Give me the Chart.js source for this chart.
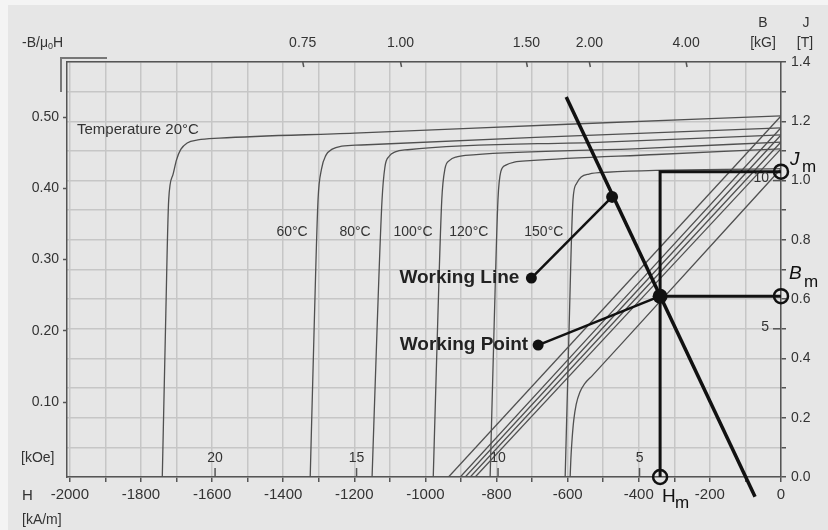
<!DOCTYPE html>
<html>
<head>
<meta charset="utf-8">
<script src="https://cdn.jsdelivr.net/npm/chart.js@4.4.0/dist/chart.umd.min.js"></script>
<style>
  html, body { margin: 0; padding: 0; background: #f4f4f4; }
  #wrap { width: 828px; height: 530px; }
</style>
</head>
<body>
<div id="wrap"><canvas id="chart" width="828" height="530"></canvas></div>
<script>
// ---- data: H in kA/m, J / B in T ----
const H_MIN = -2008;
const KOE = 79.5775; // kA/m per kOe

const tempNames = ["Temperature 20°C", "60°C", "80°C", "100°C", "120°C", "150°C"];

// intrinsic J(H) curves
const j20 = [[-1740,0],[-1731,0.5],[-1722,0.935],[-1710,1.02],[-1700,1.07],[-1688,1.105],[-1670,1.127],[-1640,1.137],[-1580,1.143],[-1200,1.16],[-600,1.19],[0,1.218]];
const j60 = [[-1324,0],[-1313,0.5],[-1302,0.935],[-1292,1.04],[-1280,1.085],[-1262,1.106],[-1235,1.116],[-1180,1.12],[-600,1.15],[0,1.178]];
const j80 = [[-1150,0],[-1136,0.5],[-1122,0.935],[-1114,1.045],[-1102,1.082],[-1085,1.097],[-1050,1.104],[-500,1.13],[0,1.154]];
const j100 = [[-978,0],[-966,0.5],[-954,0.935],[-945,1.04],[-932,1.068],[-912,1.08],[-866,1.087],[-400,1.108],[0,1.13]];
const j120 = [[-818,0],[-807,0.5],[-796,0.935],[-788,1.03],[-774,1.052],[-750,1.062],[-706,1.067],[-350,1.088],[0,1.107]];
const j150 = [[-607,0],[-596,0.5],[-585,0.935],[-575,0.99],[-562,1.012],[-540,1.022],[-490,1.028],[0,1.04]];

// normal B(H) curves
const b20 = [[-935,0],[0,1.218]];
const b60 = [[-902,0],[0,1.178]];
const b80 = [[-888,0],[0,1.154]];
const b100 = [[-874,0],[0,1.13]];
const b120 = [[-860,0],[0,1.107]];
const b150 = [[-593,0],[-591,0.06],[-588,0.12],[-583,0.19],[-576,0.245],[-566,0.285],[-552,0.315],[-530,0.343],[-452,0.445],[0,1.04]];

// load line and operating point
const workingLine = [[-604,1.282],[-73,-0.067]];
const workingPoint = [-340, 0.61];
const jm = 1.03;
const lineTag = [[-702,0.671],[-475,0.945]];
const pointTag = [[-683,0.445],[-340,0.61]];

// axis ticks
const permeanceLabels = ["0.75", "1.00", "1.50", "2.00", "4.00"];
const permeanceAt = [-1345, -1070, -716, -539, -267];
const pcTicks = [0.10, 0.20, 0.30, 0.40, 0.50];
const kOeTicks = [20, 15, 10, 5];
const kGTicks = [10, 5];

const FONT = "'Liberation Sans', Arial, sans-serif";
const INK = "#333";
const CURVE = "#505050";
const BLACK = "#111";

const pts = a => a.map(([x, y]) => ({x, y}));

function curve(a){
  return {
    data: pts(a), borderColor: CURVE, borderWidth: 1.3, pointRadius: 0,
    cubicInterpolationMode: "monotone", order: 2
  };
}

const datasets = [];
[j20, j60, j80, j100, j120, j150].forEach(c => datasets.push(curve(c)));
[b20, b60, b80, b100, b120, b150].forEach(c => datasets.push(curve(c)));

datasets.push({
  data: pts(workingLine), borderColor: BLACK, borderWidth: 3.5, pointRadius: 0, clip: false, order: 1
});
datasets.push({
  data: pts([[workingPoint[0], 0], [workingPoint[0], jm], [0, jm]]),
  borderColor: BLACK, borderWidth: 3, pointRadius: 0, clip: false, order: 1
});
datasets.push({
  data: pts([workingPoint, [0, workingPoint[1]]]),
  borderColor: BLACK, borderWidth: 3, pointRadius: 0, clip: false, order: 1
});
datasets.push({
  data: pts(lineTag), borderColor: BLACK, borderWidth: 2.5,
  pointRadius: [5.5, 6], pointBackgroundColor: BLACK, pointBorderWidth: 0, order: 0
});
datasets.push({
  data: pts(pointTag), borderColor: BLACK, borderWidth: 2.5,
  pointRadius: [5.5, 7.5], pointBackgroundColor: BLACK, pointBorderWidth: 0, order: 0
});
// hollow markers for Jm, Bm, Hm
datasets.push({
  data: pts([[0, jm], [0, workingPoint[1]], [workingPoint[0], 0]]),
  showLine: false, pointRadius: 7, pointBorderWidth: 2.5, pointBorderColor: BLACK,
  pointBackgroundColor: "rgba(0,0,0,0)", clip: false, order: 0
});

function text(ctx, s, x, y, font, align, color){
  ctx.font = font;
  ctx.textAlign = align || "center";
  ctx.textBaseline = "middle";
  ctx.fillStyle = color || INK;
  ctx.fillText(s, x, y);
}

const backdrop = {
  id: "backdrop",
  beforeDraw(chart){
    const ctx = chart.ctx;
    ctx.save();
    ctx.fillStyle = "#f4f4f4";
    ctx.fillRect(0, 0, chart.width, chart.height);
    ctx.fillStyle = "#e6e6e6";
    ctx.fillRect(8, 5, chart.width - 8, chart.height - 5);
    ctx.restore();
  }
};

const annotate = {
  id: "annotate",
  afterDraw(chart){
    const {ctx, chartArea: a, scales: {x, y}} = chart;
    ctx.save();

    // corner bracket at top left
    ctx.strokeStyle = "#777";
    ctx.lineWidth = 2;
    ctx.beginPath();
    ctx.moveTo(a.left - 6, a.top + 30);
    ctx.lineTo(a.left - 6, a.top - 4);
    ctx.lineTo(a.left + 40, a.top - 4);
    ctx.stroke();

    ctx.strokeStyle = "#555";
    ctx.lineWidth = 1.5;
    // small inward ticks under the permeance labels
    permeanceAt.forEach(h => {
      const px = x.getPixelForValue(h);
      ctx.beginPath(); ctx.moveTo(px, a.top); ctx.lineTo(px + 1, a.top + 5); ctx.stroke();
    });
    // kOe scale inside the bottom edge
    kOeTicks.forEach(k => {
      const px = x.getPixelForValue(-k * KOE);
      ctx.beginPath(); ctx.moveTo(px, a.bottom - 9); ctx.lineTo(px, a.bottom); ctx.stroke();
      text(ctx, String(k), px, a.bottom - 19, "14px " + FONT);
    });
    // kG scale inside the right edge
    kGTicks.forEach(k => {
      const py = y.getPixelForValue(k / 10);
      ctx.beginPath(); ctx.moveTo(a.right - 8, py); ctx.lineTo(a.right, py); ctx.stroke();
      text(ctx, String(k), a.right - 12, py - 2, "14px " + FONT, "right");
    });

    // axis captions
    const f14 = "14px " + FONT;
    ctx.font = f14;
    let cx = 22;
    text(ctx, "-B/\u03bc", cx, 43, f14, "left");
    cx += ctx.measureText("-B/\u03bc").width;
    text(ctx, "0", cx, 47, "9px " + FONT, "left");
    cx += 5;
    text(ctx, "H", cx, 43, f14, "left");
    text(ctx, "B", 763, 23, f14);
    text(ctx, "[kG]", 763, 43, f14);
    text(ctx, "J", 806, 23, f14);
    text(ctx, "[T]", 805, 43, f14);
    text(ctx, "H", 22, 496, "15px " + FONT, "left");
    text(ctx, "[kA/m]", 22, 520, f14, "left");
    text(ctx, "[kOe]", 21, a.bottom - 19, f14, "left");

    // temperature labels
    text(ctx, tempNames[0], x.getPixelForValue(-1980), y.getPixelForValue(1.171), "15px " + FONT, "left");
    const tempAt = [-1375, -1198, -1035, -878, -667];
    tempAt.forEach((h, i) => text(ctx, tempNames[i + 1], x.getPixelForValue(h), y.getPixelForValue(0.827), "14px " + FONT));

    // callouts
    const fb = "bold 19px " + FONT;
    text(ctx, "Working Line", x.getPixelForValue(lineTag[0][0]) - 12, y.getPixelForValue(lineTag[0][1]), fb, "right", "#222");
    text(ctx, "Working Point", x.getPixelForValue(pointTag[0][0]) - 10, y.getPixelForValue(pointTag[0][1]), fb, "right", "#222");

    // Jm, Bm, Hm
    const big = "italic 19px " + FONT, sub = "17px " + FONT;
    const xr = x.getPixelForValue(0);
    const yJ = y.getPixelForValue(jm), yB = y.getPixelForValue(workingPoint[1]);
    text(ctx, "J", xr + 9, yJ - 12, big, "left", "#111");
    text(ctx, "m", xr + 21, yJ - 4, sub, "left", "#111");
    text(ctx, "B", xr + 8, yB - 22, big, "left", "#111");
    text(ctx, "m", xr + 23, yB - 14, sub, "left", "#111");
    const xH = x.getPixelForValue(workingPoint[0]);
    text(ctx, "H", xH + 2, y.getPixelForValue(0) + 20, "19px " + FONT, "left", "#111");
    text(ctx, "m", xH + 15, y.getPixelForValue(0) + 26, sub, "left", "#111");

    ctx.restore();
  }
};

const gridColor = "#c6c6c6";
const axisColor = "#555";

new Chart(document.getElementById("chart"), {
  type: "line",
  data: {datasets},
  options: {
    responsive: false,
    animation: false,
    devicePixelRatio: 1,
    parsing: true,
    layout: {padding: 0},
    plugins: {legend: {display: false}, tooltip: {enabled: false}},
    scales: {
      x: {
        type: "linear", position: "bottom", min: H_MIN, max: 0,
        afterFit: s => { s.height = 53; },
        afterBuildTicks: s => {
          s.ticks = [];
          for (let v = -2000; v <= 0; v += 100) s.ticks.push({value: v});
        },
        ticks: {
          color: INK, font: {family: FONT, size: 15}, padding: 4, maxRotation: 0, autoSkip: false,
          callback: v => (v % 200 === 0 ? String(v) : "")
        },
        grid: {color: gridColor, lineWidth: 1.5, tickColor: axisColor, tickLength: 5, tickWidth: 1.5},
        border: {display: true, color: axisColor, width: 1.5}
      },
      xTop: {
        type: "linear", position: "top", min: H_MIN, max: 0,
        afterFit: s => { s.height = 62; },
        afterBuildTicks: s => { s.ticks = permeanceAt.map(v => ({value: v})); },
        ticks: {
          color: INK, font: {family: FONT, size: 14}, padding: 10, maxRotation: 0, autoSkip: false,
          callback: (v, i) => permeanceLabels[i]
        },
        grid: {drawOnChartArea: false, drawTicks: false},
        border: {display: true, color: axisColor, width: 1.5}
      },
      y: {
        type: "linear", position: "right", min: 0, max: 1.4,
        afterFit: s => { s.width = 47; },
        afterBuildTicks: s => {
          s.ticks = [];
          for (let i = 0; i <= 14; i++) s.ticks.push({value: i / 10});
        },
        ticks: {
          color: INK, font: {family: FONT, size: 14}, padding: 5, autoSkip: false,
          callback: v => (Math.round(v * 10) % 2 === 0 ? v.toFixed(1) : "")
        },
        grid: {color: gridColor, lineWidth: 1.5, tickColor: axisColor, tickLength: 5, tickWidth: 1.5},
        border: {display: true, color: axisColor, width: 1.5}
      },
      yL: {
        type: "linear", position: "left", min: -0.00526, max: 0.5772,
        afterFit: s => { s.width = 67; },
        afterBuildTicks: s => { s.ticks = pcTicks.map(v => ({value: v})); },
        ticks: {
          color: INK, font: {family: FONT, size: 14}, padding: 4, autoSkip: false,
          callback: v => v.toFixed(2)
        },
        grid: {drawOnChartArea: false, tickColor: axisColor, tickLength: 4, tickWidth: 1.5},
        border: {display: true, color: axisColor, width: 1.5}
      }
    }
  },
  plugins: [backdrop, annotate]
});
</script>
</body>
</html>
